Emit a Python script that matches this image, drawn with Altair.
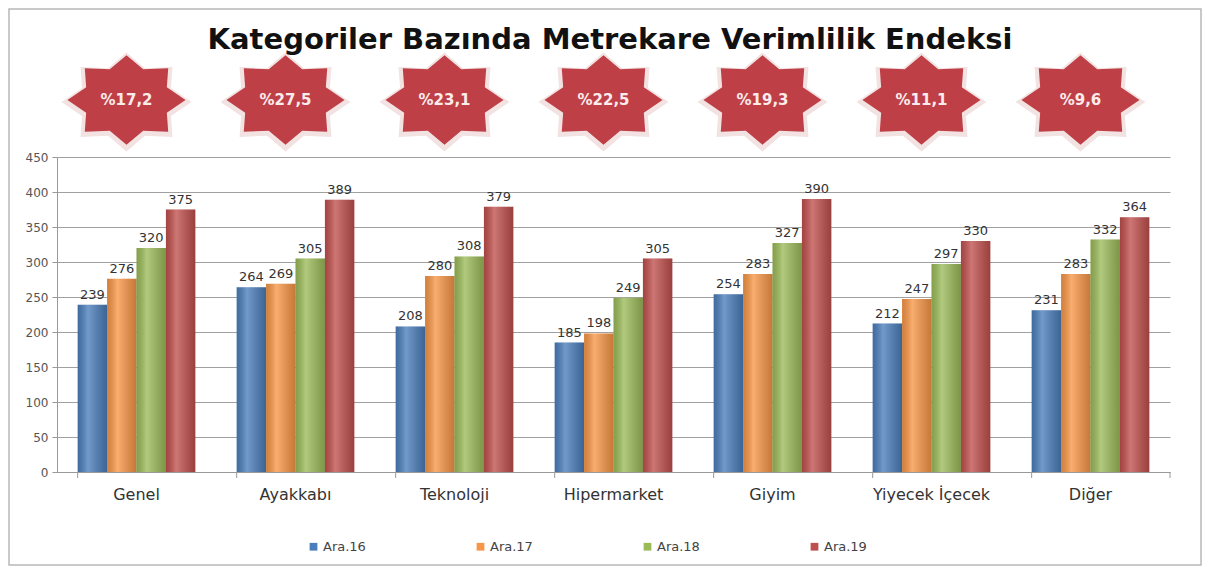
import math
import altair as alt
import pandas as pd

categories = ["Genel", "Ayakkabı", "Teknoloji", "Hipermarket", "Giyim", "Yiyecek İçecek", "Diğer"]
series = ["Ara.16", "Ara.17", "Ara.18", "Ara.19"]
ara16 = [239, 264, 208, 185, 254, 212, 231]
ara17 = [276, 269, 280, 198, 283, 247, 283]
ara18 = [320, 305, 308, 249, 327, 297, 332]
ara19 = [375, 389, 379, 305, 390, 330, 364]
growth = ["%17,2", "%27,5", "%23,1", "%22,5", "%19,3", "%11,1", "%9,6"]
colors = ["#4a7ebb", "#f79646", "#9bbb59", "#c0504d"]
y_ticks = [0, 50, 100, 150, 200, 250, 300, 350, 400, 450]
title_text = "Kategoriler Bazında Metrekare Verimlilik Endeksi"

rows = []
for s, vals in zip(series, [ara16, ara17, ara18, ara19]):
    for c, v in zip(categories, vals):
        rows.append({"Kategori": c, "Seri": s, "Deger": v})
df = pd.DataFrame(rows)
star_df = pd.DataFrame({"Kategori": categories, "Etiket": growth})
one = pd.DataFrame({"t": [title_text]})

# 8-pointed star path (two overlapping squares), stretched horizontally
pts = []
for k in range(16):
    ang = k * math.pi / 8
    r = 1.0 if k % 2 == 0 else 0.74
    pts.append((r * math.cos(ang), -r * math.sin(ang) * 0.76))
star_path = "M" + " L".join(f"{x:.4f},{y:.4f}" for x, y in pts) + " Z"

W, H = 1113, 315

x_axis = alt.Axis(title=None, labelAngle=0, labelFontSize=16, labelColor="#333",
                  ticks=False, domainColor="#999", labelPadding=14)
x_enc = alt.X("Kategori:N", sort=categories,
              scale=alt.Scale(paddingInner=0.26, paddingOuter=0.13), axis=x_axis)
xo_enc = alt.XOffset("Seri:N", sort=series, scale=alt.Scale(paddingInner=0, paddingOuter=0))
y_axis = alt.Axis(title=None, values=y_ticks, labelFontSize=12, labelColor="#555",
                  tickColor="#999", tickSize=5, domainColor="#999",
                  gridColor="#a0a0a0", labelPadding=4, labelOverlap=False)
y_enc = alt.Y("Deger:Q", scale=alt.Scale(domain=[0, 450], nice=False), axis=y_axis)

base = alt.Chart(df)

border = alt.Chart(one).mark_rect(filled=False, stroke="#b8b8b8", strokeWidth=1.5).encode(
    x=alt.value(-48), x2=alt.value(1144), y=alt.value(-148), y2=alt.value(408))

bars = base.mark_bar().encode(
    x=x_enc, xOffset=xo_enc, y=y_enc,
    color=alt.Color("Seri:N", sort=series, scale=alt.Scale(domain=series, range=colors),
                    legend=alt.Legend(title=None, orient="none", direction="horizontal",
                                      legendX=250, legendY=383, symbolType="square",
                                      symbolSize=60, labelFontSize=13, labelColor="#444",
                                      columnPadding=108, labelOffset=3)))

shine = base.mark_bar(color=alt.LinearGradient(
    gradient="linear", x1=0, x2=1, y1=0, y2=0,
    stops=[alt.GradientStop(offset=0, color="rgba(0,0,0,0.15)"),
           alt.GradientStop(offset=0.35, color="rgba(255,255,255,0.22)"),
           alt.GradientStop(offset=1, color="rgba(0,0,0,0.2)")])).encode(
    x=x_enc, xOffset=xo_enc, y=y_enc)

labels = base.mark_text(dy=-10, fontSize=13, color="#333").encode(
    x=x_enc, xOffset=xo_enc, y=y_enc, text="Deger:Q")

bticks = alt.Chart(star_df).mark_rule(color="#999").encode(
    x=alt.X("Kategori:N", sort=categories, bandPosition=0, axis=x_axis),
    y=alt.value(H), y2=alt.value(H + 6))
bticks_end = alt.Chart(one).mark_rule(color="#999").encode(
    x=alt.value(W), y=alt.value(H), y2=alt.value(H + 6))

star_glow = alt.Chart(star_df).mark_point(shape=star_path, size=130 ** 2, filled=True,
                                          fill="#f2e2e2", opacity=1, xOffset=-10).encode(
    x=alt.X("Kategori:N", sort=categories, axis=x_axis), y=alt.value(-55))
stars = alt.Chart(star_df).mark_point(shape=star_path, size=118 ** 2, filled=True,
                                      fill="#bf3f46", opacity=1, xOffset=-10).encode(
    x=alt.X("Kategori:N", sort=categories, axis=x_axis), y=alt.value(-57))
star_text = alt.Chart(star_df).mark_text(fontSize=15, fontWeight="bold", color="#fbecec",
                                         xOffset=-10).encode(
    x=alt.X("Kategori:N", sort=categories, axis=x_axis), y=alt.value(-57), text="Etiket:N")

title = alt.Chart(one).mark_text(fontSize=29, fontWeight="bold", color="#111").encode(
    x=alt.value(553), y=alt.value(-117), text="t:N")

chart = alt.layer(border, bars, shine, labels, bticks, bticks_end, star_glow, stars, star_text, title).properties(
    width=W, height=H,
    autosize=alt.AutoSizeParams(type="none"),
    padding={"left": 49, "top": 149, "right": 33, "bottom": 94},
).configure(font="DejaVu Sans").configure_view(stroke=None)

chart.save("out.html", embed_options={"renderer": "svg", "actions": False})
